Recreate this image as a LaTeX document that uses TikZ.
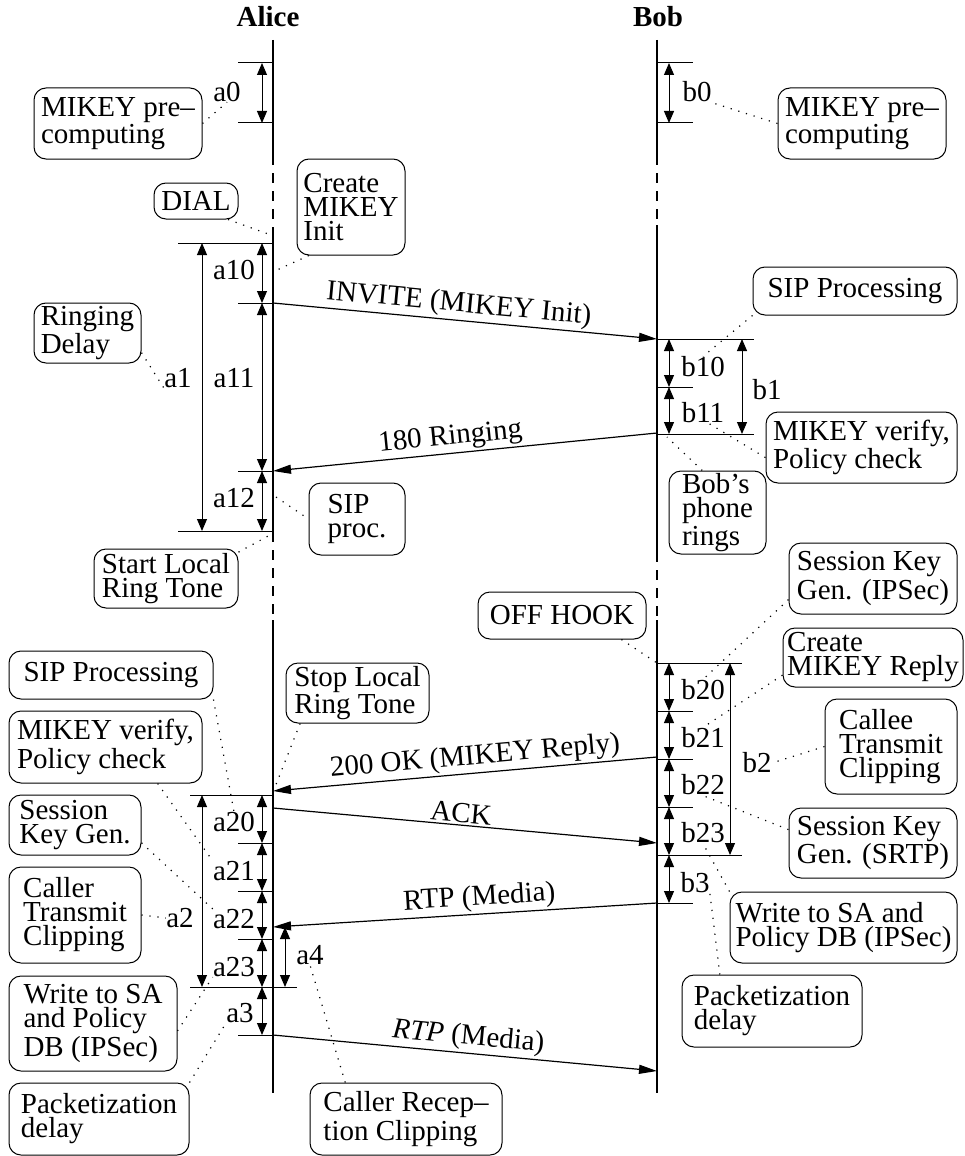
\documentclass[tikz,border=0pt]{standalone}
\usepackage{fontspec}
\setmainfont{Liberation Serif}
\usetikzlibrary{arrows.meta,calc}

\tikzset{
  life/.style={line width=1pt},
  lifedash/.style={line width=1pt, dash pattern=on 5pt off 4pt},
  tick/.style={line width=0.5pt},
  dim/.style={line width=0.5pt, {Triangle[length=6pt,width=5pt]}-{Triangle[length=6pt,width=5pt]}},
  msg/.style={line width=0.6pt, -{Triangle[length=9pt,width=4.5pt]}},
  mlab/.style={sloped, above, inner sep=1pt},
  box/.style={draw, line width=0.5pt, rounded corners=6pt, align=left, inner sep=0pt},
  lab/.style={inner sep=0pt},
  note/.style={line width=0.6pt, dash pattern=on 0.6pt off 3.4pt},
}

% \mkbox{name}{x1}{y1}{x2}{y2}{text}: rounded note box between two corners
\newcommand\mkbox[6]{%
  \pgfmathsetmacro\bxw{(#4-#2)*0.5}%
  \pgfmathsetmacro\bxh{(#5-#3)*0.5}%
  \node[box, minimum width=\bxw pt, minimum height=\bxh pt] (#1) at ({(#2+#4)/2},{(#3+#5)/2}) {#6};}

\begin{document}
\begin{tikzpicture}[x=0.5pt,y=-0.5pt,font=\fontsize{14.5}{12}\selectfont]
\useasboundingbox (0,0) rectangle (964,1156);

% participants
\node[font=\fontsize{14.5}{12}\selectfont\bfseries, anchor=base] (alice) at (268,27) {Alice};
\node[font=\fontsize{14.5}{12}\selectfont\bfseries, anchor=base] (bob) at (658,27) {Bob};

% lifelines
\draw[life] (273,40) -- (273,155);
\draw[lifedash] (273,155) -- (273,235);
\draw[life] (273,235) -- (273,532);
\draw[lifedash] (273,532) -- (273,620);
\draw[life] (273,620) -- (273,1093);

\draw[life] (657,40) -- (657,155);
\draw[lifedash] (657,155) -- (657,225);
\draw[life] (657,225) -- (657,552);
\draw[lifedash] (657,552) -- (657,620);
\draw[life] (657,620) -- (657,1093);

% Alice interval ticks
\foreach \y in {63,123,303,471,843,891,939,1035} \draw[tick] (238,\y) -- (273,\y);
\draw[tick] (178,243) -- (273,243);
\draw[tick] (178,531) -- (273,531);
\draw[tick] (190,795) -- (273,795);
\draw[tick] (190,987) -- (297,987);

% Alice interval arrows
\draw[dim] (262,63) -- (262,123);
\draw[dim] (262,243) -- (262,303);
\draw[dim] (262,303) -- (262,471);
\draw[dim] (262,471) -- (262,531);
\draw[dim] (202,243) -- (202,531);
\draw[dim] (262,795) -- (262,843);
\draw[dim] (262,843) -- (262,891);
\draw[dim] (262,891) -- (262,939);
\draw[dim] (262,939) -- (262,987);
\draw[dim] (202,795) -- (202,987);
\draw[dim] (262,987) -- (262,1035);
\draw[dim] (285,927) -- (285,987);

% Bob interval ticks
\foreach \y in {63,123,387,711,759,807,903} \draw[tick] (657,\y) -- (693,\y);
\draw[tick] (657,339) -- (754,339);
\draw[tick] (657,434) -- (754,434);
\draw[tick] (657,663) -- (742,663);
\draw[tick] (657,855) -- (742,855);

% Bob interval arrows
\draw[dim] (669,63) -- (669,123);
\draw[dim] (669,339) -- (669,387);
\draw[dim] (669,387) -- (669,434);
\draw[dim] (742,339) -- (742,434);
\draw[dim] (669,663) -- (669,711);
\draw[dim] (669,711) -- (669,759);
\draw[dim] (669,759) -- (669,807);
\draw[dim] (669,807) -- (669,855);
\draw[dim] (730,663) -- (730,855);
\draw[dim] (669,855) -- (669,903);

% messages
\coordinate (inviteS) at (273,303);  \coordinate (inviteE) at (657,339);
\coordinate (ringS) at (657,433);    \coordinate (ringE) at (273,471);
\coordinate (okS) at (657,757);      \coordinate (okE) at (273,791);
\coordinate (ackS) at (273,808);     \coordinate (ackE) at (657,843);
\coordinate (rtpaS) at (657,903);    \coordinate (rtpaE) at (273,927);
\coordinate (rtpbS) at (273,1035);   \coordinate (rtpbE) at (657,1071);

\draw[msg] (inviteS) -- node[mlab,pos=0.48] {INVITE (MIKEY Init)} (inviteE);
\draw[msg] (ringS) -- node[mlab,pos=0.534] {180 Ringing} (ringE);
\draw[msg] (okS) -- node[mlab,pos=0.47] {200 OK (MIKEY Reply)} (okE);
\draw[msg] (ackS) -- node[mlab,pos=0.487] {ACK} (ackE);
\draw[msg] (rtpaS) -- node[mlab,pos=0.46] {RTP (Media)} (rtpaE);
\draw[msg] (rtpbS) -- node[mlab,pos=0.505] {\textit{RTP} (Media)} (rtpbE);

% interval labels
\node[lab] (la0)  at (227,92)  {a0};
\node[lab] (la10) at (234,270) {a10};
\node[lab] (la11) at (234,378) {a11};
\node[lab] (la12) at (234,498) {a12};
\node[lab] (la1)  at (178,378) {a1};
\node[lab] (la20) at (234,822) {a20};
\node[lab] (la21) at (234,871) {a21};
\node[lab] (la22) at (234,919) {a22};
\node[lab] (la23) at (234,967) {a23};
\node[lab] (la2)  at (180,918) {a2};
\node[lab] (la3)  at (240,1013) {a3};
\node[lab] (la4)  at (310,955) {a4};

\node[lab] (lb0)  at (697,92)  {b0};
\node[lab] (lb10) at (703,367) {b10};
\node[lab] (lb11) at (703,413) {b11};
\node[lab] (lb1)  at (767,390) {b1};
\node[lab] (lb20) at (703,690) {b20};
\node[lab] (lb21) at (703,738) {b21};
\node[lab] (lb22) at (703,785) {b22};
\node[lab] (lb23) at (703,833) {b23};
\node[lab] (lb2)  at (757,763) {b2};
\node[lab] (lb3)  at (695,883) {b3};

% note boxes
\mkbox{mikA}{34}{88}{202}{159}{MIKEY pre–\\computing}
\mkbox{mikB}{778}{88}{946}{159}{MIKEY pre–\\computing}
\mkbox{dial}{154}{183}{238}{219}{DIAL}
\mkbox{cmi}{297}{159}{405}{255}{Create\\MIKEY\\Init}
\mkbox{ring}{34}{303}{141}{363}{Ringing\\Delay}
\mkbox{sipp}{309}{483}{405}{555}{SIP\\proc.}
\mkbox{slr}{94}{549}{238}{608}{Start Local\\Ring Tone}
\mkbox{sipB}{753}{267}{957}{315}{SIP Processing}
\mkbox{mvB}{766}{412}{957}{483}{MIKEY verify,\\Policy check}
\mkbox{bpr}{669}{471}{766}{554}{Bob’s\\phone\\rings}
\mkbox{offh}{478}{592}{646}{639}{OFF HOOK}
\mkbox{skgI}{789}{543}{957}{614}{Session Key\\Gen. (IPSec)}
\mkbox{cmr}{783}{628}{963}{687}{Create\\MIKEY Reply}
\mkbox{ctc}{825}{699}{957}{794}{Callee\\Transmit\\Clipping}
\mkbox{skgS}{789}{808}{957}{878}{Session Key\\Gen. (SRTP)}
\mkbox{wsaB}{730}{892}{957}{963}{Write to SA and\\Policy DB (IPSec)}
\mkbox{pdB}{682}{975}{862}{1047}{Packetization\\delay}
\mkbox{sipA}{9}{651}{213}{699}{SIP Processing}
\mkbox{slt}{286}{663}{429}{723}{Stop Local\\Ring Tone}
\mkbox{mvA}{9}{711}{202}{783}{MIKEY verify,\\Policy check}
\mkbox{skgA}{9}{795}{141}{855}{Session\\Key Gen.}
\mkbox{ctA}{9}{867}{141}{963}{Caller\\Transmit\\Clipping}
\mkbox{wsaA}{9}{976}{177}{1071}{Write to SA\\and Policy\\DB (IPSec)}
\mkbox{pdA}{9}{1083}{189}{1155}{Packetization\\delay}
\mkbox{crc}{310}{1083}{502}{1155}{Caller Recep–\\tion Clipping}

% points on the lifelines that notes refer to
\coordinate (dialpt) at (271,235);
\coordinate (a10pt) at (277,270);
\coordinate (a12pt) at (276,497);
\coordinate (a1end) at (270,535);
\coordinate (ringpt) at (667,437);
\coordinate (hookpt) at (657,663);
\coordinate (okpt) at (275,787);

% dotted note connectors
\draw[note] (mikA.east) -- (la0.south);
\draw[note] (mikB.west) -- (lb0.south east);
\draw[note] (dial.-30) -- (dialpt);
\draw[note] (cmi.-131) -- (a10pt);
\draw[note] (ring.-20) -- (la1.south west);
\draw[note] (a12pt) -- (sipp.west);
\draw[note] (slr.20) -- (a1end);
\draw[note] (sipB.south west) -- (lb10.north);
\draw[note] (mvB.186) -- (lb11.-60);
\draw[note] (bpr.110) -- (ringpt);
\draw[note] (offh.-22) -- (hookpt);
\draw[note] (skgI.194) -- (lb20.north);
\draw[note] (cmr.191) -- (lb21.north);
\draw[note] (ctc.west) -- (lb2.east);
\draw[note] (skgS.171) -- (lb22.south);
\draw[note] (wsaB.north west) -- (lb23.south);
\draw[note] (pdB.145) -- (lb3.south east);
\draw[note] (sipA.south east) -- (la20.north);
\draw[note] (slt.-152) -- (okpt);
\draw[note] (mvA.-35) -- (la21.north west);
\draw[note] (skgA.-15) -- (la22.north west);
\draw[note] (ctA.east) -- (la2.west);
\draw[note] (wsaA.-5) -- (la23.south west);
\draw[note] (pdA.north east) -- (la3.south west);
\draw[note] (crc.149.5) -- (la4.south);
\end{tikzpicture}
\end{document}
